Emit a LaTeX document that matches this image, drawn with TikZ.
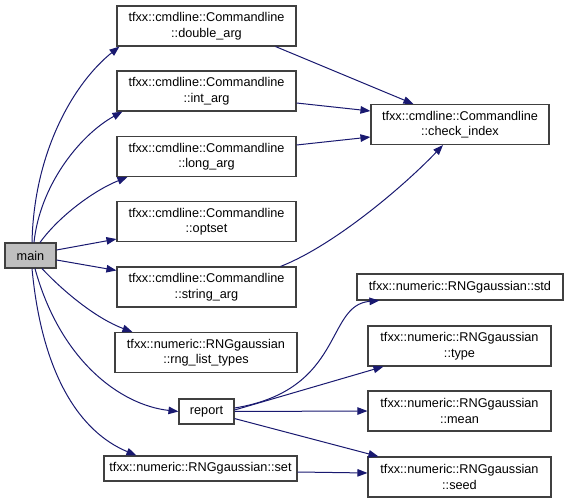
\documentclass[tikz,border=0pt]{standalone}
\usepackage{fontspec}
\setmainfont{Liberation Sans}
\usetikzlibrary{arrows.meta}
\definecolor{edgec}{HTML}{191970}
\definecolor{boxc}{HTML}{404040}
\definecolor{mainfill}{HTML}{BFBFBF}
\tikzset{
  fn/.style={draw=boxc, fill=white, line width=1.1pt, rectangle, inner sep=0pt, align=center,
    font=\fontsize{12.7}{15.5}\selectfont},
  mainbox/.style={fn, fill=mainfill},
  edge/.style={draw=edgec, line width=1pt, -{Triangle[length=10pt,width=7.5pt]}},
}
\begin{document}
\begin{tikzpicture}[x=1pt,y=-1pt]
\useasboundingbox (0,0) rectangle (568,503);
\node[mainbox, minimum width=51pt, minimum height=25pt] (main) at (30.5,255.5) {main};
\node[fn, minimum width=179pt, minimum height=40pt] (dbl) at (206.5,26) {tfxx::cmdline::Commandline\\::double\_arg};
\node[fn, minimum width=179pt, minimum height=40pt] (int) at (206.5,91) {tfxx::cmdline::Commandline\\::int\_arg};
\node[fn, minimum width=179pt, minimum height=40pt] (lng) at (206.5,156.5) {tfxx::cmdline::Commandline\\::long\_arg};
\node[fn, minimum width=179pt, minimum height=40pt] (opt) at (206.5,221.5) {tfxx::cmdline::Commandline\\::optset};
\node[fn, minimum width=179pt, minimum height=40pt] (str) at (206.5,287) {tfxx::cmdline::Commandline\\::string\_arg};
\node[fn, minimum width=182pt, minimum height=40pt] (rng) at (206,352.5) {tfxx::numeric::RNGgaussian\\::rng\_list\_types};
\node[fn, minimum width=55pt, minimum height=25pt] (rep) at (206.5,411.5) {report};
\node[fn, minimum width=193pt, minimum height=25pt] (set) at (200.5,468.5) {tfxx::numeric::RNGgaussian::set};
\node[fn, minimum width=178pt, minimum height=40pt] (chk) at (460,124.5) {tfxx::cmdline::Commandline\\::check\_index};
\node[fn, minimum width=206pt, minimum height=26pt] (std) at (460,287) {tfxx::numeric::RNGgaussian::std};
\node[fn, minimum width=183pt, minimum height=40pt] (typ) at (459.5,346) {tfxx::numeric::RNGgaussian\\::type};
\node[fn, minimum width=183pt, minimum height=40pt] (mean) at (459.5,411) {tfxx::numeric::RNGgaussian\\::mean};
\node[fn, minimum width=183pt, minimum height=40pt] (seed) at (459.5,477) {tfxx::numeric::RNGgaussian\\::seed};

% main edges
\draw[edge] ([xshift=1.5pt]main.north) .. controls (34,150) and (75,82) .. ([xshift=3pt]dbl.south west);
\draw[edge] ([xshift=3.5pt]main.north) .. controls (40,185) and (80,135) .. ([xshift=6pt]int.south west);
\draw[edge] ([xshift=9.5pt]main.north) .. controls (60,215) and (95,190) .. ([xshift=11pt]lng.south west);
\draw[edge] ([yshift=5.5pt]main.east) -- ([yshift=3pt]opt.south west);
\draw[edge] ([yshift=-4.5pt]main.east) -- ([yshift=-4pt]str.north west);
\draw[edge] ([xshift=11.5pt]main.south) .. controls (62,290) and (95,318) .. ([xshift=18pt]rng.north west);
\draw[edge] ([xshift=4.5pt]main.south) .. controls (60,360) and (120,405) .. (rep.west);
\draw[edge] ([xshift=1.5pt]main.south) .. controls (42,375) and (80,432) .. ([xshift=33pt]set.north west);

% to check_index
\draw[edge] ([xshift=-21pt]dbl.south east) -- ([xshift=43pt]chk.north west);
\draw[edge] ([yshift=-12pt]int.east) -- ([yshift=13.5pt]chk.west);
\draw[edge] ([yshift=11.5pt]lng.east) -- ([yshift=-12.5pt]chk.west);
\draw[edge] ([xshift=-16pt]str.north east) .. controls (335,245) and (405,185) .. ([xshift=-17pt]chk.south);

% report
\draw[edge] ([yshift=3.5pt]rep.east) .. controls (345,390) and (325,305) .. ([xshift=23pt]std.south west);
\draw[edge] ([yshift=1.5pt]rep.east) -- ([xshift=16pt]typ.south west);
\draw[edge] (rep.east) -- (mean.west);
\draw[edge] ([yshift=6pt]rep.south east) -- ([xshift=11pt]seed.north west);
\draw[edge] ([yshift=-3.5pt]set.east) -- ([yshift=4pt]seed.west);
\end{tikzpicture}
\end{document}
